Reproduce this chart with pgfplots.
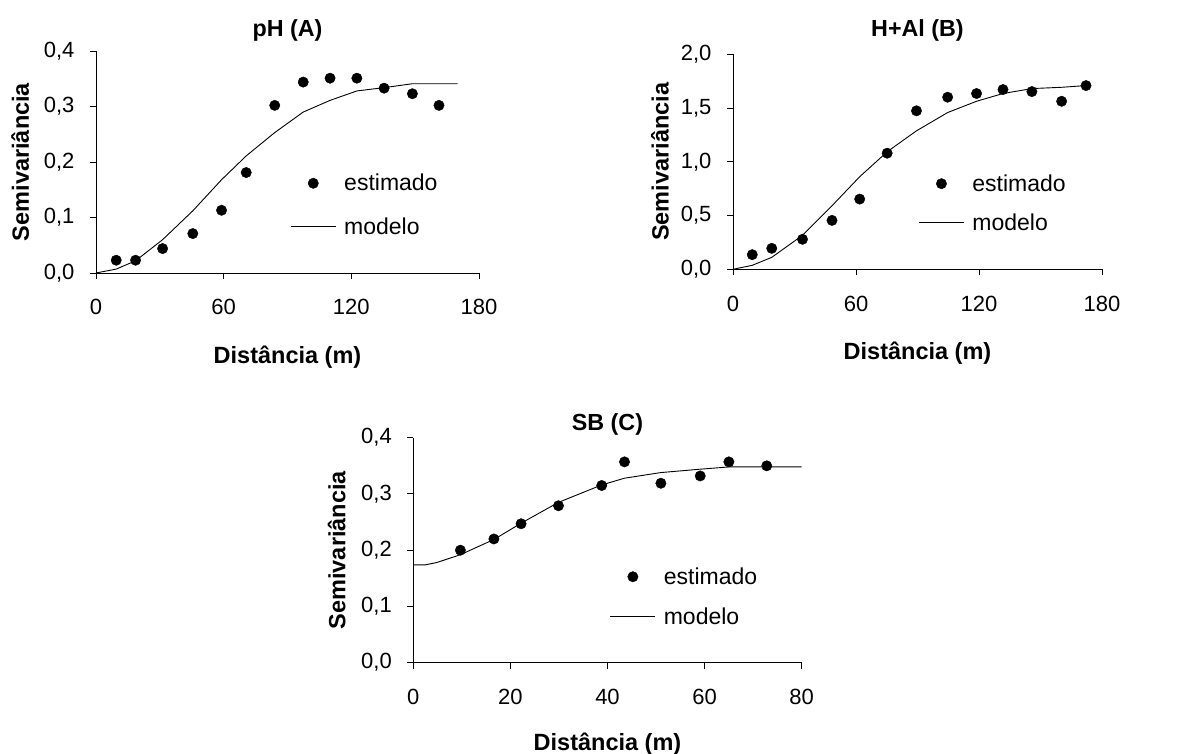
\documentclass[border=0pt]{standalone}
\usepackage{fontspec}
\setmainfont{Liberation Sans}
\usepackage{pgfplots}
\pgfplotsset{compat=1.18}

\pgfplotsset{
  vario/.style={
    scale only axis,
    axis lines*=left,
    tick align=outside,
    major tick length=6pt,
    axis line style={line width=0.9pt},
    every tick/.style={line width=0.9pt, black},
    tick label style={font=\fontsize{22}{26}\selectfont},
    xticklabel shift=17pt,
    yticklabel shift=12pt,
    label style={font=\fontsize{23.5}{28}\selectfont\bfseries},
    title style={font=\fontsize{23.3}{28}\selectfont\bfseries, anchor=center},
    /pgf/number format/assume math mode=true,
    yticklabel style={/pgf/number format/.cd, use comma, fixed, fixed zerofill, precision=1, /tikz/.cd},
    xlabel={Distância (m)},
    ylabel={Semivariância},
    legend style={draw=none, fill=none, anchor=north west, font=\fontsize{23}{27}\selectfont,
      row sep=21pt},
    legend cell align=left,
    clip=false,
  },
  est/.style={only marks, mark=*, mark size=5.2pt, black, mark options={fill=black},
    legend image code/.code={\draw[mark repeat=2, mark phase=2, ##1] plot coordinates {(0pt,0pt) (22.5pt,0pt) (45pt,0pt)};
      \path (0pt,0pt) (51pt,0pt);}},
  mod/.style={black, line width=0.9pt, no marks,
    legend image code/.code={\draw[##1] (0pt,0pt) -- (45pt,0pt); \path (0pt,0pt) (51pt,0pt);}},
}

\begin{document}
\begin{tikzpicture}
\path[use as bounding box] (0pt,0pt) rectangle (1179pt,754pt);

% pH (A)
\begin{axis}[vario,
  at={(96pt,481pt)}, anchor=south west,
  width=383pt, height=222pt,
  xmin=0, xmax=180, ymin=0, ymax=0.4,
  xtick={0,60,120,180}, ytick={0,0.1,0.2,0.3,0.4},
  title={pH (A)},
  title style={at={(axis description cs:0.5,1)}, yshift=15pt},
  xlabel style={at={(axis description cs:0.5,-0.38)}, anchor=center},
  ylabel style={at={(axis description cs:-0.198,0.5)}, anchor=center},
  legend style={at={(axis description cs:0.499,0.464)}},
]
\addplot[est] coordinates {
  (9.5,0.023)(18.6,0.023)(31.3,0.044)(45.5,0.071)(59.0,0.113)(70.6,0.181)(84.0,0.302)
  (97.4,0.344)(110.0,0.351)(122.6,0.351)(135.4,0.333)(148.7,0.323)(161.2,0.302)
};
\addplot[mod] coordinates {
  (0,0)(9.5,0.007)(18.6,0.022)(31.3,0.060)(45.5,0.112)(59.0,0.168)(70.6,0.211)(84.0,0.253)
  (97.4,0.290)(110.0,0.311)(122.6,0.328)(135.4,0.334)(148.7,0.341)(170,0.341)
};
\legend{estimado,modelo}
\end{axis}

% H+Al (B)
\begin{axis}[vario,
  at={(733pt,484.7pt)}, anchor=south west,
  width=369pt, height=215pt,
  xmin=0, xmax=180, ymin=0, ymax=2,
  xtick={0,60,120,180}, ytick={0,0.5,1,1.5,2},
  title={H+Al (B)},
  title style={at={(axis description cs:0.5,1)}, yshift=18pt},
  xlabel style={at={(axis description cs:0.5,-0.389)}, anchor=center},
  ylabel style={at={(axis description cs:-0.198,0.5)}, anchor=center},
  legend style={at={(axis description cs:0.494,0.46)}, row sep=17pt},
]
\addplot[est] coordinates {
  (9.4,0.136)(18.9,0.195)(33.9,0.279)(48.3,0.455)(61.8,0.653)(75.2,1.080)(89.5,1.474)
  (104.7,1.601)(118.8,1.635)(131.7,1.672)(145.8,1.653)(160.3,1.563)(172.2,1.709)
};
\addplot[mod] coordinates {
  (0,0)(9.4,0.037)(18.9,0.111)(33.9,0.316)(48.3,0.591)(61.8,0.861)(75.2,1.093)(89.5,1.288)
  (104.7,1.458)(118.8,1.563)(131.7,1.635)(145.8,1.681)(160.3,1.693)(172.2,1.709)
};
\legend{estimado,modelo}
\end{axis}

% SB (C)
\begin{axis}[vario,
  at={(413.3pt,91.3pt)}, anchor=south west,
  width=388.4pt, height=225pt,
  xmin=0, xmax=80, ymin=0, ymax=0.4,
  xtick={0,20,40,60,80}, ytick={0,0.1,0.2,0.3,0.4},
  title={SB (C)},
  title style={at={(axis description cs:0.5,1)}, yshift=7pt},
  xlabel style={at={(axis description cs:0.5,-0.36)}, anchor=center},
  ylabel style={at={(axis description cs:-0.197,0.5)}, anchor=center},
  legend style={at={(axis description cs:0.498,0.441)}, row sep=18pt},
]
\addplot[est] coordinates {
  (9.7,0.200)(16.6,0.220)(22.2,0.247)(29.9,0.279)(38.8,0.315)(43.5,0.357)(51.0,0.319)
  (59.1,0.332)(65.0,0.357)(72.8,0.350)
};
\addplot[mod] coordinates {
  (0,0.174)(2.5,0.174)(4.8,0.178)(9.7,0.192)(16.6,0.219)(22.2,0.248)(29.9,0.285)(38.8,0.316)
  (43.5,0.328)(51.0,0.338)(59.1,0.344)(65.0,0.348)(72.8,0.348)(80,0.348)
};
\legend{estimado,modelo}
\end{axis}
\end{tikzpicture}
\end{document}
